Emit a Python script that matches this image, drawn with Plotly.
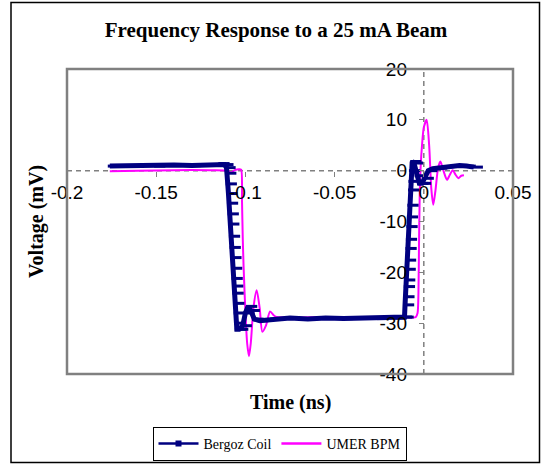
import plotly.graph_objects as go
import numpy as np

# ---------------- data ----------------
bergoz_t = [-0.176, -0.165, -0.150, -0.140, -0.130, -0.120, -0.1140, -0.1118, -0.1106,
            -0.1102, -0.1099, -0.1095, -0.1092, -0.1088, -0.1085, -0.1081, -0.1077, -0.1073,
            -0.1069, -0.1066, -0.1063, -0.1061, -0.1057, -0.1054, -0.1050, -0.1048,
            -0.1035, -0.1015, -0.1000, -0.0985, -0.0970, -0.0950, -0.0920, -0.085, -0.075,
            -0.065, -0.055, -0.045, -0.035, -0.025, -0.015, -0.0118,
            -0.01082, -0.01052, -0.01033, -0.01005, -0.00990, -0.00963, -0.00941, -0.00912,
            -0.00889, -0.00858, -0.00835, -0.00806, -0.00768, -0.00746, -0.00718,
            -0.0065, -0.0055, -0.0040, -0.0025, -0.0010, 0.0005, 0.0025, 0.005, 0.008,
            0.012, 0.016, 0.020, 0.024, 0.028]
bergoz_v = [0.9, 1.0, 0.9, 1.1, 1.0, 1.1, 1.4, 1.2, 0.6,
            -0.5, -2.6, -4.5, -6.4, -8.5, -10.5, -12.9, -15.1, -17.1,
            -19.2, -21.2, -22.7, -24.1, -26.1, -28.0, -30.0, -31.2,
            -31.2, -30.5, -28.0, -26.7, -27.5, -29.2, -29.5, -29.2, -29.0,
            -29.2, -29.0, -29.1, -29.0, -29.1, -29.0, -28.8,
            -28.8, -26.4, -24.8, -22.8, -21.5, -19.4, -17.6, -15.3,
            -13.5, -11.0, -9.1, -6.8, -3.8, -2.1, 0.0,
            1.8, 1.5, -1.0, -2.5, -2.5, -1.5, 0.0, 0.4, 0.5,
            0.8, 0.9, 1.0, 0.9, 0.7]

umer_t = [-0.176, -0.160, -0.140, -0.120, -0.1100, -0.1080, -0.1060, -0.1035, -0.1024,
          -0.1019, -0.1015, -0.1010, -0.1004, -0.0997, -0.0990, -0.0980, -0.0970, -0.0955,
          -0.0937, -0.0920, -0.0905, -0.0885, -0.0862, -0.0840, -0.0825,
          -0.070, -0.055, -0.040, -0.025, -0.010, -0.0045,
          -0.0035, -0.0030, -0.0027, -0.0023, -0.0018, -0.0010, 0.0000, 0.0016, 0.0030,
          0.0042, 0.0053, 0.0065, 0.0080, 0.0093, 0.0110, 0.0130, 0.0146, 0.0162, 0.0178,
          0.0194, 0.0210, 0.0225]
umer_v = [-0.1, 0.0, 0.1, 0.1, 0.0, -0.4, 0.1, 0.3, 0.2,
          -6.0, -13.0, -19.0, -24.5, -30.0, -34.0, -36.5, -34.0, -27.0,
          -23.5, -27.0, -31.7, -30.5, -27.7, -28.5, -28.8,
          -28.9, -28.8, -29.0, -28.9, -28.8, -28.8,
          -28.0, -24.0, -15.0, -5.0, 0.5, 5.0, 8.5, 10.0, 5.0,
          -3.5, -6.7, -4.0, 0.5, 1.8, 0.0, -1.8, -0.8, 0.1, -0.8,
          -1.5, -1.0, -0.9]

x_ticks = [-0.2, -0.15, -0.1, -0.05, 0, 0.05]
x_tick_labels = ["-0.2", "-0.15", "-0.1", "-0.05", "0", "0.05"]
y_ticks = [-40, -30, -20, -10, 0, 10, 20]
y_tick_labels = ["-40", "-30", "-20", "-10", "0", "10", "20"]

title = "Frequency Response to a 25 mA Beam"
x_title = "Time (ns)"
y_title = "Voltage (mV)"
series_names = ["Bergoz Coil", "UMER BPM"]

NAVY = "#000080"
MAGENTA = "#FF00FF"
GRAY = "#808080"
SERIF = "Liberation Serif, Times New Roman, serif"
SANS = "Liberation Sans, Arial, sans-serif"

X_RANGE = [-0.2, 0.05]
Y_RANGE = [-40, 20]

FIG_W, FIG_H = 541, 464
# plot area in pixels
PL, PR, PT, PB = 67, 513, 69, 374
PW, PH = PR - PL, PB - PT


def px(xp):
    return (xp - PL) / PW


def py(yp):
    return (PB - yp) / PH


fig = go.Figure()

# legend-only entries (order: Bergoz, UMER)
fig.add_trace(go.Scatter(x=[None], y=[None], name=series_names[0], mode="lines+markers",
                         line=dict(color=NAVY, width=2.5),
                         marker=dict(symbol="square", size=6, color=NAVY)))
fig.add_trace(go.Scatter(x=[None], y=[None], name=series_names[1], mode="lines",
                         line=dict(color=MAGENTA, width=2.5)))

# real series
fig.add_trace(go.Scatter(x=umer_t, y=umer_v, mode="lines", showlegend=False,
                         line=dict(color=MAGENTA, width=2, shape="spline", smoothing=0.7),
                         hoverinfo="skip"))
fig.add_trace(go.Scatter(x=bergoz_t, y=bergoz_v, mode="lines", showlegend=False,
                         line=dict(color=NAVY, width=5), hoverinfo="skip"))
# Excel-style markers at each sample, drawn slightly to the right of the line
marker_shift = 0.002
fig.add_trace(go.Scatter(x=np.array(bergoz_t) + marker_shift, y=bergoz_v, mode="markers",
                         showlegend=False, hoverinfo="skip",
                         marker=dict(symbol="line-ew", size=8, color=NAVY,
                                     line=dict(color=NAVY, width=3))))

y0_paper = (0 - Y_RANGE[0]) / (Y_RANGE[1] - Y_RANGE[0])
x0_paper = (0 - X_RANGE[0]) / (X_RANGE[1] - X_RANGE[0])

fig.update_layout(
    width=FIG_W, height=FIG_H,
    margin=dict(l=PL, r=FIG_W - PR, t=PT, b=FIG_H - PB, autoexpand=False),
    paper_bgcolor="white", plot_bgcolor="white",
    title=dict(text="<b>%s</b>" % title, x=276 / FIG_W, xref="container",
               xanchor="center", y=1 - 30 / FIG_H, yref="container",
               yanchor="middle", font=dict(family=SERIF, size=21, color="black")),
    xaxis=dict(range=X_RANGE, tickvals=x_ticks, ticktext=x_tick_labels,
               showgrid=False, zeroline=False, showline=False,
               anchor="free", position=y0_paper, side="bottom",
               ticks="outside", ticklen=5, tickwidth=1, tickcolor=GRAY,
               tickfont=dict(family=SANS, size=19, color="black")),
    yaxis=dict(range=Y_RANGE, tickvals=y_ticks, ticktext=y_tick_labels,
               showgrid=False, zeroline=False, showline=False,
               anchor="free", position=x0_paper, side="left",
               ticks="outside", ticklen=5, tickwidth=1, tickcolor=GRAY,
               ticklabelstandoff=8,
               tickfont=dict(family=SANS, size=19, color="black")),
    legend=dict(orientation="h", x=px(279.5), xanchor="center", y=py(427), yanchor="top",
                bordercolor="black", borderwidth=1, bgcolor="white",
                font=dict(family=SERIF, size=14, color="black"),
                itemwidth=40, tracegroupgap=0),
    showlegend=True,
)

# dashed axis lines through zero
fig.add_shape(type="line", xref="x", yref="paper", x0=0, x1=0, y0=0, y1=1,
              line=dict(color=GRAY, width=1.5, dash="5px,4px"), layer="below")
fig.add_shape(type="line", xref="paper", yref="y", x0=0, x1=1, y0=0, y1=0,
              line=dict(color=GRAY, width=1.5, dash="5px,4px"), layer="below")
# plot-area border
fig.add_shape(type="rect", xref="paper", yref="paper", x0=0, x1=1, y0=0, y1=1,
              line=dict(color=GRAY, width=2.5), layer="above")
# outer chart frame
fig.add_shape(type="rect", xref="paper", yref="paper",
              x0=px(11), x1=px(539.5), y0=py(462.5), y1=py(2.5),
              line=dict(color="black", width=1.5), layer="above")

# axis titles
fig.add_annotation(text="<b>%s</b>" % x_title, xref="paper", yref="paper",
                   x=px(290), y=py(402), showarrow=False,
                   xanchor="center", yanchor="middle",
                   font=dict(family=SERIF, size=20, color="black"))
fig.add_annotation(text="<b>%s</b>" % y_title, xref="paper", yref="paper",
                   x=px(36), y=py(222), showarrow=False,
                   textangle=-90, xanchor="center", yanchor="middle",
                   font=dict(family=SERIF, size=20, color="black"))

# remove the default 8px body margin so the figure fills the window exactly
fig.write_html("out.html",
               config={"displayModeBar": False, "staticPlot": True},
               post_script="document.body.style.margin='0px';"
                           "document.body.style.overflow='hidden';")
